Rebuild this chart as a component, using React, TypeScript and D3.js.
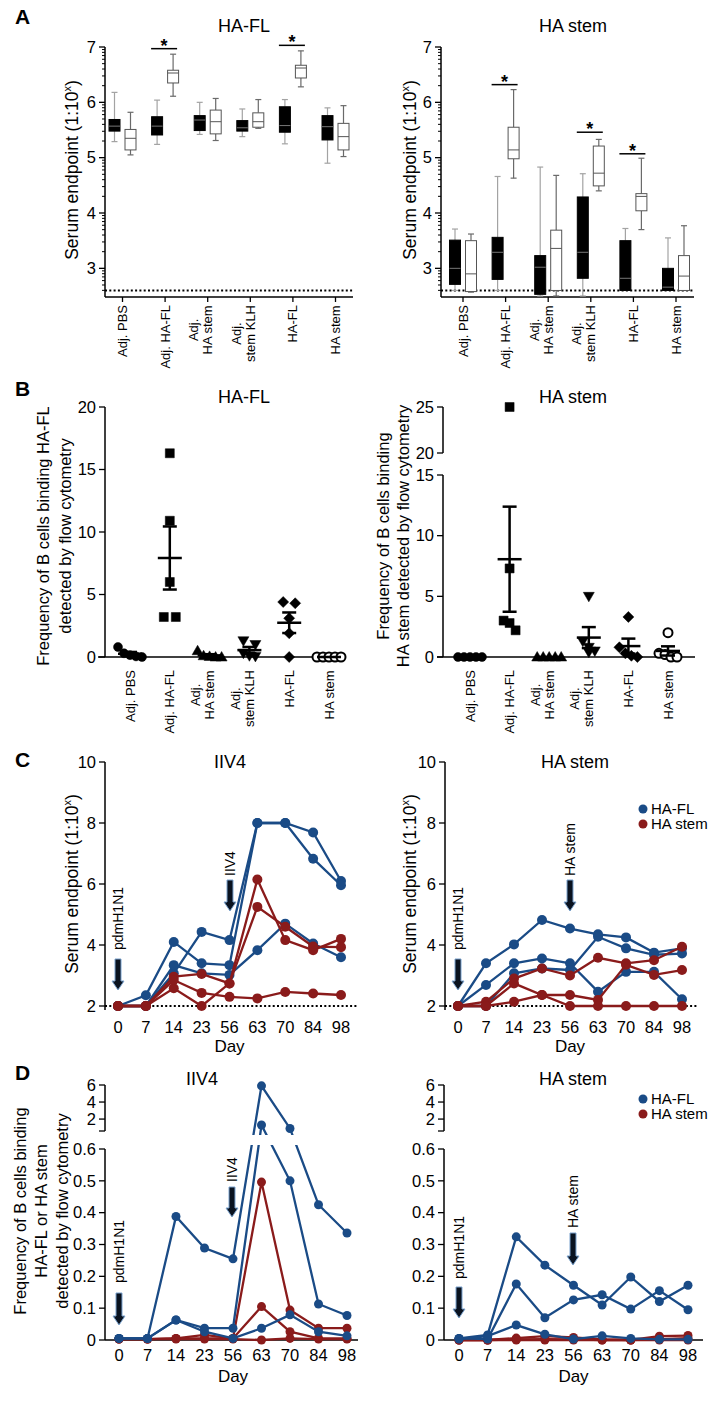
import React from "react";
import * as d3 from "d3";

const FONT = "'Liberation Sans', Arial, Helvetica, sans-serif";
const BLUE = "#1a4b86";
const RED = "#8a1b1b";
const TICK_FS = 16.5;

// ---------------- Panel A data ----------------
const aCategories = ["Adj. PBS", "Adj. HA-FL", "Adj.|HA stem", "Adj.|stem KLH", "HA-FL", "HA stem"];
const aYTicks = [3, 4, 5, 6, 7];
const aDetectionLimit = 2.6;
// box summaries: [min, q1, median, q3, max]
const aFlFilled = [
  [5.29, 5.48, 5.57, 5.69, 6.18],
  [5.24, 5.41, 5.57, 5.74, 6.04],
  [5.42, 5.49, 5.68, 5.76, 6.0],
  [5.38, 5.48, 5.54, 5.67, 5.88],
  [5.25, 5.46, 5.58, 5.92, 6.05],
  [4.9, 5.32, 5.56, 5.76, 5.9],
];
const aFlOpen = [
  [5.05, 5.14, 5.35, 5.51, 5.82],
  [6.11, 6.35, 6.53, 6.58, 6.87],
  [5.31, 5.43, 5.65, 5.86, 6.07],
  [5.53, 5.55, 5.65, 5.81, 6.05],
  [6.28, 6.44, 6.62, 6.67, 6.93],
  [5.02, 5.14, 5.38, 5.62, 5.94],
];
const aFlSigGroups = [1, 4];
const aFlSigLevels = [6.97, 7.03];
const aStemFilled = [
  [2.6, 2.71, 3.0, 3.51, 3.71],
  [2.6, 2.8, 3.29, 3.56, 4.66],
  [2.5, 2.53, 3.02, 3.23, 4.83],
  [2.5, 2.82, 3.29, 4.29, 4.71],
  [2.6, 2.6, 2.82, 3.5, 3.72],
  [2.6, 2.6, 2.66, 3.0, 3.55],
];
const aStemOpen = [
  [2.57, 2.58, 2.9, 3.5, 3.62],
  [4.63, 4.98, 5.14, 5.55, 6.23],
  [2.5, 2.6, 3.36, 3.69, 4.68],
  [4.4, 4.49, 4.72, 5.21, 5.33],
  [3.7, 4.04, 4.3, 4.35, 4.99],
  [2.6, 2.6, 2.86, 3.23, 3.77],
];
const aStemSigGroups = [1, 3, 4];
const aStemSigLevels = [6.32, 5.46, 5.07];

// ---------------- Panel B data ----------------
const bCategories = ["Adj. PBS", "Adj. HA-FL", "Adj.|HA stem", "Adj.|stem KLH", "HA-FL", "HA stem"];
const bMarkers = ["circle", "square", "triangleUp", "triangleDown", "diamond", "openCircle"];
const bFl = [
  [0.8, 0.3, 0.15, 0.05, 0.0],
  [16.3, 10.9, 6.0, 3.2, 3.2],
  [0.5, 0.1, 0.05, 0, 0],
  [1.3, 1.0, 0.3, 0.1, 0.05],
  [4.4, 4.3, 3.1, 1.9, 0],
  [0, 0, 0, 0, 0],
];
const bFlTicks = [0, 5, 10, 15, 20];
const bStem = [
  [0, 0, 0, 0, 0],
  [25, 7.3, 3.0, 2.8, 2.2],
  [0, 0, 0, 0, 0],
  [5.0, 1.3, 0.8, 0.5, 0.4],
  [3.3, 0.8, 0.3, 0.1, 0],
  [2.0, 0.3, 0.2, 0, 0],
];
const bStemLowerTicks = [0, 5, 10, 15];
const bStemUpperTicks = [20, 25];

// ---------------- Panel C data ----------------
const days = ["0", "7", "14", "23", "56", "63", "70", "84", "98"];
const cTicks = [2, 4, 6, 8, 10];
const cIiv4HaFl = [
  [2, 2.35, 4.1, 3.4, 3.34, 8.0, 8.0, 7.69, 6.1],
  [2, 2.0, 3.07, 4.43, 4.16, 8.0, 8.0, 6.83, 5.96],
  [2, 2.0, 3.34, 3.07, 3.02, 3.83, 4.7, 4.05, 3.6],
];
const cIiv4HaStem = [
  [2, 2, 2.96, 3.05, 2.74, 6.15, 4.16, 3.83, 4.2],
  [2, 2, 2.58, 2.0, 2.74, 5.25, 4.6, 3.95, 3.93],
  [2, 2, 2.85, 2.43, 2.3, 2.25, 2.46, 2.41, 2.36],
];
const cStemHaFl = [
  [2, 3.4, 4.02, 4.82, 4.54, 4.35, 4.25, 3.75, 3.89],
  [2, 2.69, 3.4, 3.56, 3.4, 2.47, 3.12, 3.12, 2.22],
  [2, 2.0, 3.07, 3.23, 3.18, 4.27, 3.89, 3.68, 3.72],
];
const cStemHaStem = [
  [2, 2.14, 2.9, 3.23, 3.0, 3.58, 3.4, 3.5, 3.94],
  [2, 2.0, 2.74, 2.36, 2.36, 2.2, 3.35, 3.02, 3.18],
  [2, 2.0, 2.14, 2.36, 2.0, 2.0, 2.0, 2.0, 2.0],
];

// ---------------- Panel D data ----------------
const dLowerTicks = [0, 0.1, 0.2, 0.3, 0.4, 0.5, 0.6];
const dUpperTicks = [2, 4, 6];
const dIiv4HaFl = [
  [0.005, 0.005, 0.388, 0.289, 0.255, 5.9, 0.9, 0.425, 0.336],
  [0.005, 0.005, 0.063, 0.037, 0.037, 1.3, 0.5, 0.113, 0.077],
  [0.005, 0.005, 0.063, 0.026, 0.005, 0.037, 0.079, 0.026, 0.013],
];
const dIiv4HaStem = [
  [0.003, 0.003, 0.005, 0.016, 0.005, 0.496, 0.094, 0.037, 0.037],
  [0.003, 0.003, 0.005, 0.005, 0.005, 0.105, 0.026, 0.005, 0.005],
  [0.003, 0.003, 0.003, 0.003, 0.003, 0.0, 0.005, 0.003, 0.003],
];
const dStemHaFl = [
  [0.005, 0.016, 0.324, 0.235, 0.172, 0.11, 0.198, 0.121, 0.172],
  [0.005, 0.003, 0.176, 0.07, 0.126, 0.142, 0.097, 0.155, 0.095],
  [0.003, 0.012, 0.047, 0.018, 0.003, 0.013, 0.005, 0.002, 0.002],
];
const dStemHaStem = [
  [0, 0, 0.006, 0.012, 0.008, 0.002, 0, 0.012, 0.014],
  [0, 0, 0.002, 0.003, 0.002, 0, 0, 0.003, 0.006],
  [0, 0, 0, 0, 0, 0, 0, 0, 0],
];

// ---------------- helpers ----------------
let ctx: CanvasRenderingContext2D | null = null;
function textWidth(s: string, size: number) {
  if (!ctx) ctx = document.createElement("canvas").getContext("2d");
  if (!ctx) return s.length * size * 0.5;
  ctx.font = `${size}px 'Liberation Sans', Arial, sans-serif`;
  return ctx.measureText(s).width;
}

function VLines({ x, y, lines, size, lh }: any) {
  const n = lines.length;
  return (
    <text transform={`translate(${x},${y}) rotate(-90)`} textAnchor="middle" fontSize={size} fontFamily={FONT}>
      {lines.map((l: string, i: number) => (
        <tspan key={i} x={0} y={(i - (n - 1) / 2) * lh + size * 0.35}>{l}</tspan>
      ))}
    </text>
  );
}

function SerumLabel({ x, y }: any) {
  return (
    <text transform={`translate(${x},${y}) rotate(-90)`} textAnchor="middle" fontSize={17.5} fontFamily={FONT} dy="0.35em">
      Serum endpoint (1:10<tspan fontSize={11} dy={-7}>x</tspan><tspan dy={7}>)</tspan>
    </text>
  );
}

function CatLabel({ x, yTop, label }: any) {
  const lines = label.split("|");
  const n = lines.length;
  const size = 13;
  const off = n > 1 ? -7 : 0;
  const maxW = Math.max(...lines.map((l: string) => textWidth(l, size)));
  return (
    <text transform={`translate(${x + off},${yTop}) rotate(-90)`} textAnchor="middle" fontSize={size} fontFamily={FONT}>
      {lines.map((l: string, i: number) => (
        <tspan key={i} x={-maxW / 2} y={(i - (n - 1) / 2) * 14 + 4.5}>{l}</tspan>
      ))}
    </text>
  );
}

function Arrow({ x, y0, y1 }: any) {
  const sw = 3, hw = 6, hh = 9;
  const d = `M${x - sw},${y0} L${x + sw},${y0} L${x + sw},${y1 - hh} L${x + hw},${y1 - hh} L${x},${y1} L${x - hw},${y1 - hh} L${x - sw},${y1 - hh} Z`;
  return <path d={d} fill="#0a1320" stroke="#7aa3cf" strokeWidth={1} />;
}

function VAnno({ x, yBottom, text }: any) {
  return (
    <text transform={`translate(${x},${yBottom}) rotate(-90)`} fontSize={14} fontFamily={FONT} dy="0.35em">{text}</text>
  );
}

function YTicks({ axisX, scale, ticks, fmt }: any) {
  return (
    <g>
      {ticks.map((t: number) => (
        <g key={t}>
          <line x1={axisX - 6} x2={axisX} y1={scale(t)} y2={scale(t)} stroke="#000" strokeWidth={1.3} />
          <text x={axisX - 9} y={scale(t)} dy="0.35em" textAnchor="end" fontSize={TICK_FS} fontFamily={FONT}>
            {fmt ? fmt(t) : t}
          </text>
        </g>
      ))}
    </g>
  );
}

function PanelLetter({ letter, y }: any) {
  return <text x={15} y={y} fontSize={21} fontWeight={900} fontFamily={FONT}>{letter}</text>;
}

// ---------------- Panel A ----------------
function BoxPanel({ axisX, xr, xEnd, filled, open, sigGroups, sigLevels, title, titleX, labelX }: any) {
  const y = d3.scaleLinear().domain([2.5, 7]).range([296, 47]);
  const x = d3.scalePoint<string>().domain(aCategories).range(xr);
  const minor: number[] = [];
  for (let d = 2; d < 7; d++)
    for (let k = 2; k <= 9; k++) {
      const v = d + Math.log10(k);
      if (v >= 2.5 && v <= 7) minor.push(v);
    }
  const w = 11;
  const drawBox = (b: number[], cx: number, isFilled: boolean, key: string) => {
    const [mn, q1, md, q3, mx] = b;
    const wc = isFilled ? "#a3a3a3" : "#6a6a6a";
    return (
      <g key={key}>
        <line x1={cx} x2={cx} y1={y(mx)} y2={y(q3)} stroke={wc} strokeWidth={1.2} />
        <line x1={cx} x2={cx} y1={y(q1)} y2={y(mn)} stroke={wc} strokeWidth={1.2} />
        <line x1={cx - 3} x2={cx + 3} y1={y(mx)} y2={y(mx)} stroke={wc} strokeWidth={1.2} />
        <line x1={cx - 3} x2={cx + 3} y1={y(mn)} y2={y(mn)} stroke={wc} strokeWidth={1.2} />
        <rect x={cx - w / 2} y={y(q3)} width={w} height={y(q1) - y(q3)} fill={isFilled ? "#000" : "#fff"} stroke={isFilled ? "#000" : "#555"} strokeWidth={1} />
        <line x1={cx - w / 2} x2={cx + w / 2} y1={y(md)} y2={y(md)} stroke={isFilled ? "#777" : "#555"} strokeWidth={1} />
      </g>
    );
  };
  return (
    <g>
      <text x={titleX} y={32} textAnchor="middle" fontSize={18} fontFamily={FONT}>{title}</text>
      <SerumLabel x={labelX} y={170} />
      <line x1={axisX} x2={axisX} y1={y(7)} y2={297} stroke="#000" strokeWidth={1.5} />
      {minor.map((v, i) => (
        <line key={i} x1={axisX - 3} x2={axisX} y1={y(v)} y2={y(v)} stroke="#000" strokeWidth={1} />
      ))}
      <YTicks axisX={axisX} scale={y} ticks={aYTicks} />
      <line x1={axisX} x2={xEnd} y1={297} y2={297} stroke="#000" strokeWidth={1.5} />
      {aCategories.map((c) => (
        <line key={c} x1={x(c)!} x2={x(c)!} y1={297} y2={302} stroke="#000" strokeWidth={1.3} />
      ))}
      <line x1={axisX} x2={xEnd} y1={y(aDetectionLimit)} y2={y(aDetectionLimit)} stroke="#000" strokeWidth={2} strokeDasharray="2 2.3" />
      {aCategories.map((c, i) => drawBox(filled[i], x(c)! - 8, true, "f" + i))}
      {aCategories.map((c, i) => drawBox(open[i], x(c)! + 8, false, "o" + i))}
      {sigGroups.map((g: number, i: number) => {
        const cx = x(aCategories[g])!;
        const yy = y(sigLevels[i]);
        return (
          <g key={"s" + i}>
            <line x1={cx - 14} x2={cx + 12} y1={yy} y2={yy} stroke="#000" strokeWidth={1.5} />
            <text x={cx - 1} y={yy + 3} textAnchor="middle" fontSize={18} fontWeight="bold" fontFamily={FONT}>*</text>
          </g>
        );
      })}
      {aCategories.map((c) => (
        <CatLabel key={"l" + c} x={x(c)!} yTop={305} label={c} />
      ))}
    </g>
  );
}

// ---------------- Panel B ----------------
function markerPath(kind: string) {
  switch (kind) {
    case "square": return "M-4.5,-4.5 H4.5 V4.5 H-4.5 Z";
    case "triangleUp": return "M0,-5.5 L5.5,4 L-5.5,4 Z";
    case "triangleDown": return "M0,5.5 L5.5,-4 L-5.5,-4 Z";
    case "diamond": return "M0,-5.5 L5.5,0 L0,5.5 L-5.5,0 Z";
    default: return "M4.5,0 A4.5,4.5 0 1,1 -4.5,0 A4.5,4.5 0 1,1 4.5,0 Z";
  }
}

function jitterOffsets(values: number[], yf: (v: number) => number) {
  const idx = values.map((_, i) => i).sort((a, b) => values[b] - values[a]);
  const offsets = new Array(values.length).fill(0);
  let cluster: number[] = [];
  const flush = () => {
    const n = cluster.length;
    const sp = n === 2 ? 12 : 6;
    cluster.forEach((k, j) => (offsets[k] = (j - (n - 1) / 2) * sp));
    cluster = [];
  };
  idx.forEach((i) => {
    if (cluster.length && Math.abs(yf(values[i]) - yf(values[cluster[0]])) > 10.5) flush();
    cluster.push(i);
  });
  flush();
  return offsets;
}

function ScatterPanel({ axisX, xr, xStart, xEnd, data, yf, axisSegments, title, titleX }: any) {
  const x = d3.scalePoint<string>().domain(bCategories).range(xr);
  return (
    <g>
      <text x={titleX} y={403} textAnchor="middle" fontSize={18} fontFamily={FONT}>{title}</text>
      {axisSegments.map((s: any, i: number) => (
        <g key={i}>
          <line x1={axisX} x2={axisX} y1={s.scale.range()[1]} y2={s.scale.range()[0]} stroke="#000" strokeWidth={1.5} />
          <YTicks axisX={axisX} scale={s.scale} ticks={s.ticks} />
        </g>
      ))}
      <line x1={xStart} x2={xEnd} y1={657} y2={657} stroke="#000" strokeWidth={1.5} />
      {bCategories.map((c, ci) => {
        const vals: number[] = data[ci];
        const cx = x(c)!;
        const offs = jitterOffsets(vals, yf);
        const mean = d3.mean(vals)!;
        const sem = (d3.deviation(vals) || 0) / Math.sqrt(vals.length);
        const kind = bMarkers[ci];
        return (
          <g key={c}>
            {vals.map((v, i) => (
              <path key={i} d={markerPath(kind)} transform={`translate(${cx + offs[i]},${yf(v)})`}
                fill={kind === "openCircle" ? "#fff" : "#000"} stroke="#000" strokeWidth={kind === "openCircle" ? 2 : 0.5} />
            ))}
            {sem > 0 && (
              <g stroke="#000" strokeWidth={2.5}>
                <line x1={cx} x2={cx} y1={yf(mean - sem)} y2={yf(mean + sem)} />
                <line x1={cx - 7} x2={cx + 7} y1={yf(mean + sem)} y2={yf(mean + sem)} />
                <line x1={cx - 7} x2={cx + 7} y1={yf(mean - sem)} y2={yf(mean - sem)} />
              </g>
            )}
            <line x1={cx - 12} x2={cx + 12} y1={yf(mean)} y2={yf(mean)} stroke="#000" strokeWidth={2.5} />
            <CatLabel x={cx} yTop={670} label={c} />
          </g>
        );
      })}
    </g>
  );
}

// ---------------- Panels C / D ----------------
function Series({ data, x, yf, color, r, clip }: any) {
  const line = d3.line<number>().x((_, i) => x(days[i])!).y((v) => yf(v));
  return (
    <g>
      {data.map((s: number[], k: number) =>
        clip ? (
          clip.map((id: string) => (
            <path key={k + id} d={line(s)!} fill="none" stroke={color} strokeWidth={2.3} clipPath={`url(#${id})`} />
          ))
        ) : (
          <path key={k} d={line(s)!} fill="none" stroke={color} strokeWidth={2.3} />
        )
      )}
      {data.map((s: number[], k: number) =>
        s.map((v, i) => <circle key={k + "-" + i} cx={x(days[i])!} cy={yf(v)} r={r} fill={color} />)
      )}
    </g>
  );
}

function Legend({ x, y }: any) {
  return (
    <g fontFamily={FONT} fontSize={15}>
      <circle cx={x} cy={y} r={4.5} fill={BLUE} />
      <text x={x + 8} y={y} dy="0.35em">HA-FL</text>
      <circle cx={x} cy={y + 15} r={4.5} fill={RED} />
      <text x={x + 8} y={y + 15} dy="0.35em">HA stem</text>
    </g>
  );
}

function TimePanelC({ axisX, xr, xEnd, fl, stem, title, titleX, labelX, boostLabel, boostX, legend }: any) {
  const y = d3.scaleLinear().domain([2, 10]).range([1006, 762]);
  const x = d3.scalePoint<string>().domain(days).range(xr);
  const mid = (xr[0] + xr[1]) / 2;
  return (
    <g>
      <text x={titleX} y={768} textAnchor="middle" fontSize={18} fontFamily={FONT}>{title}</text>
      <SerumLabel x={labelX} y={884} />
      <line x1={axisX} x2={axisX} y1={762} y2={1010} stroke="#000" strokeWidth={1.5} />
      <YTicks axisX={axisX} scale={y} ticks={cTicks} />
      <line x1={axisX} x2={xEnd} y1={y(2)} y2={y(2)} stroke="#000" strokeWidth={2} strokeDasharray="2 2.3" />
      <Series data={fl} x={x} yf={y} color={BLUE} r={5} />
      <Series data={stem} x={x} yf={y} color={RED} r={5} />
      {days.map((d) => (
        <text key={d} x={x(d)!} y={1033} textAnchor="middle" fontSize={TICK_FS} fontFamily={FONT}>{d}</text>
      ))}
      <text x={mid} y={1052} textAnchor="middle" fontSize={17} fontFamily={FONT}>Day</text>
      <VAnno x={x("0")!} yBottom={950} text="pdmH1N1" />
      <Arrow x={x("0")!} y0={959} y1={990} />
      <VAnno x={boostX} yBottom={876} text={boostLabel} />
      <Arrow x={boostX} y0={880} y1={911} />
      {legend && <Legend x={643} y={809} />}
    </g>
  );
}

const dLower = d3.scaleLinear().domain([0, 0.6]).range([1340, 1149]);
const dUpper = d3.scaleLinear().domain([0.6, 6]).range([1131, 1085]);
const dY = (v: number) => (v <= 0.6 ? dLower(v) : dUpper(v));

function TimePanelD({ axisX, xr, xEnd, fl, stem, title, titleX, boostLabel, boostX, legend, clipIds, annoPdm }: any) {
  const x = d3.scalePoint<string>().domain(days).range(xr);
  const mid = (xr[0] + xr[1]) / 2;
  return (
    <g>
      <defs>
        <clipPath id={clipIds[0]}><rect x={0} y={1060} width={719} height={75} /></clipPath>
        <clipPath id={clipIds[1]}><rect x={0} y={1145} width={719} height={230} /></clipPath>
      </defs>
      <text x={titleX} y={1085} textAnchor="middle" fontSize={18} fontFamily={FONT}>{title}</text>
      <line x1={axisX} x2={axisX} y1={1085} y2={1131} stroke="#000" strokeWidth={1.5} />
      <line x1={axisX - 6} x2={axisX} y1={1131} y2={1131} stroke="#000" strokeWidth={1.3} />
      <YTicks axisX={axisX} scale={dUpper} ticks={dUpperTicks} />
      <line x1={axisX} x2={axisX} y1={1149} y2={1340} stroke="#000" strokeWidth={1.5} />
      <YTicks axisX={axisX} scale={dLower} ticks={dLowerTicks} fmt={(t: number) => (t === 0 ? "0" : d3.format(".1f")(t))} />
      <line x1={axisX} x2={xEnd} y1={1340} y2={1340} stroke="#000" strokeWidth={1.5} />
      <Series data={stem} x={x} yf={dY} color={RED} r={4.5} clip={clipIds} />
      <Series data={fl} x={x} yf={dY} color={BLUE} r={4.5} clip={clipIds} />
      {days.map((d) => (
        <text key={d} x={x(d)!} y={1361} textAnchor="middle" fontSize={TICK_FS} fontFamily={FONT}>{d}</text>
      ))}
      <text x={mid} y={1382} textAnchor="middle" fontSize={17} fontFamily={FONT}>Day</text>
      <VAnno x={x("0")!} yBottom={annoPdm[0]} text="pdmH1N1" />
      <Arrow x={x("0")!} y0={annoPdm[1]} y1={annoPdm[2]} />
      <VAnno x={boostX} yBottom={boostLabel.bottom} text={boostLabel.text} />
      <Arrow x={boostX} y0={boostLabel.a0} y1={boostLabel.a1} />
      {legend && <Legend x={643} y={1099} />}
    </g>
  );
}

export default function App() {
  const bFlY = d3.scaleLinear().domain([0, 20]).range([657, 407]);
  const bStemLow = d3.scaleLinear().domain([0, 15]).range([657, 475]);
  const bStemUp = d3.scaleLinear().domain([20, 25]).range([453, 407]);
  const bStemY = (v: number) => (v <= 15 ? bStemLow(v) : bStemUp(v));
  return (
    <svg width={719} height={1417} viewBox="0 0 719 1417" style={{ position: "absolute", left: 0, top: 0 }} fontFamily={FONT}>
      <rect width={719} height={1417} fill="#fff" />
      <PanelLetter letter="A" y={24} />
      <PanelLetter letter="B" y={396} />
      <PanelLetter letter="C" y={767} />
      <PanelLetter letter="D" y={1080} />

      <BoxPanel axisX={105} xr={[122.5, 335.5]} xEnd={353} filled={aFlFilled} open={aFlOpen}
        sigGroups={aFlSigGroups} sigLevels={aFlSigLevels} title="HA-FL" titleX={244} labelX={72} />
      <BoxPanel axisX={441} xr={[463, 676]} xEnd={694} filled={aStemFilled} open={aStemOpen}
        sigGroups={aStemSigGroups} sigLevels={aStemSigLevels} title="HA stem" titleX={573} labelX={410} />

      <VLines x={54} y={536} lines={["Frequency of B cells binding HA-FL", "detected by flow cytometry"]} size={16.5} lh={22} />
      <ScatterPanel axisX={105} xr={[130, 329]} xStart={98} xEnd={340} data={bFl} yf={bFlY}
        axisSegments={[{ scale: bFlY, ticks: bFlTicks }]} title="HA-FL" titleX={244} />
      <VLines x={393} y={536} lines={["Frequency of B cells binding", "HA stem detected by flow cytometry"]} size={16.5} lh={20} />
      <ScatterPanel axisX={443} xr={[470, 668]} xStart={437} xEnd={695} data={bStem} yf={bStemY}
        axisSegments={[{ scale: bStemLow, ticks: bStemLowerTicks }, { scale: bStemUp, ticks: bStemUpperTicks }]}
        title="HA stem" titleX={573} />

      <TimePanelC axisX={105} xr={[118, 341]} xEnd={357} fl={cIiv4HaFl} stem={cIiv4HaStem} title="IIV4" titleX={230}
        labelX={72} boostLabel="IIV4" boostX={230} legend={false} />
      <TimePanelC axisX={445} xr={[458, 682]} xEnd={698} fl={cStemHaFl} stem={cStemHaStem} title="HA stem" titleX={575}
        labelX={410} boostLabel="HA stem" boostX={570} legend={true} />

      <VLines x={41} y={1211} lines={["Frequency of B cells binding", "HA-FL or HA stem", "detected by flow cytometry"]} size={16.5} lh={21} />
      <TimePanelD axisX={105} xr={[119, 347]} xEnd={358} fl={dIiv4HaFl} stem={dIiv4HaStem} title="IIV4" titleX={202}
        boostX={232} boostLabel={{ text: "IIV4", bottom: 1182, a0: 1187, a1: 1217 }} legend={false}
        clipIds={["dlu", "dll"]} annoPdm={[1283, 1293, 1325]} />
      <TimePanelD axisX={444} xr={[459, 688]} xEnd={703} fl={dStemHaFl} stem={dStemHaStem} title="HA stem" titleX={573}
        boostX={573} boostLabel={{ text: "HA stem", bottom: 1228, a0: 1233, a1: 1265 }} legend={true}
        clipIds={["dru", "drl"]} annoPdm={[1279, 1287, 1318]} />
    </svg>
  );
}
